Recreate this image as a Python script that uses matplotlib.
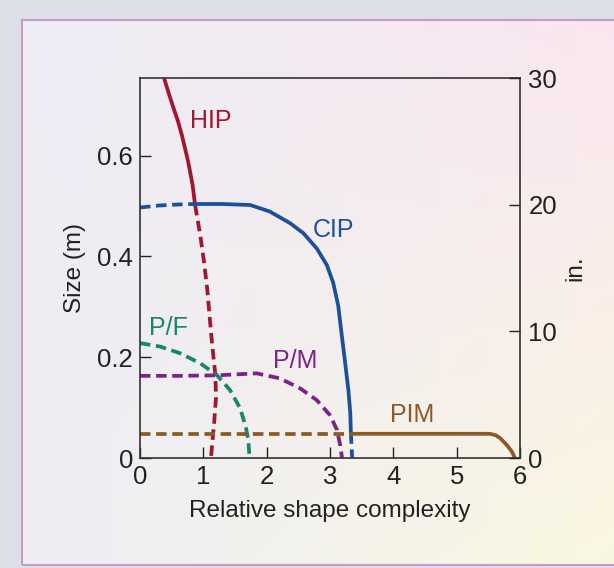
import numpy as np
import matplotlib.pyplot as plt
from matplotlib.patches import Rectangle

plt.rcParams['font.family'] = ['Liberation Sans', 'DejaVu Sans']

# curves: x = relative shape complexity, y = size (m)
hip_solid_x = [0.38, 0.45, 0.53, 0.60, 0.66, 0.71, 0.76, 0.83, 0.87]
hip_solid_y = [0.754, 0.725, 0.694, 0.668, 0.641, 0.615, 0.588, 0.542, 0.502]
hip_dash_x = [0.87, 0.95, 1.01, 1.06, 1.12, 1.16, 1.19, 1.20, 1.17, 1.12]
hip_dash_y = [0.502, 0.443, 0.39, 0.337, 0.251, 0.20, 0.165, 0.12, 0.069, 0.0]

cip_dash_x = [0.0, 0.3, 0.6, 0.87]
cip_dash_y = [0.497, 0.501, 0.503, 0.504]
cip_solid_x = [0.87, 1.3, 1.74, 2.05, 2.37, 2.58, 2.79, 2.95, 3.05, 3.13, 3.17, 3.24, 3.29, 3.32, 3.33]
cip_solid_y = [0.504, 0.504, 0.502, 0.489, 0.466, 0.446, 0.416, 0.383, 0.348, 0.302, 0.260, 0.188, 0.135, 0.09, 0.049]
cip_tail_x = [3.33, 3.35]
cip_tail_y = [0.049, 0.0]

pf_x = [0.0, 0.32, 0.63, 0.95, 1.21, 1.42, 1.58, 1.67, 1.71, 1.73]
pf_y = [0.228, 0.221, 0.208, 0.188, 0.165, 0.135, 0.099, 0.062, 0.036, 0.0]

pm_x = [0.0, 0.6, 1.21, 1.84, 2.21, 2.53, 2.79, 3.0, 3.11, 3.16, 3.19]
pm_y = [0.163, 0.163, 0.164, 0.168, 0.158, 0.138, 0.115, 0.085, 0.056, 0.026, 0.0]

pim_dash_x = [0.0, 3.33]
pim_dash_y = [0.048, 0.048]
pim_solid_x = [3.33, 5.53, 5.62, 5.69, 5.79, 5.87, 5.92]
pim_solid_y = [0.048, 0.048, 0.045, 0.039, 0.026, 0.013, 0.0]

labels = ['HIP', 'CIP', 'P/F', 'P/M', 'PIM']
label_x = [1.11, 3.06, 0.45, 2.45, 4.3]
label_y = [0.669, 0.453, 0.258, 0.193, 0.085]

red = '#a3162f'
blue = '#1c4f9c'
green = '#17866a'
purple = '#7e2188'
brown = '#8a5a2a'
colors = [red, blue, green, purple, brown]

fig = plt.figure(figsize=(6.14, 5.68), dpi=100)

# background: soft gradient panel with a thin frame
bg = fig.add_axes([0, 0, 1, 1])
gx, gy = np.meshgrid(np.linspace(0, 1, 200), np.linspace(0, 1, 200))
img = np.ones((200, 200, 3))
img[..., 0] = 0.93 + 0.05 * gx
img[..., 1] = 0.93 - 0.03 * gx * (1 - gy) + 0.04 * gx * gy
img[..., 2] = 0.96 - 0.02 * gx - 0.06 * gx * gy
img = np.clip(img, 0, 1)
bg.add_patch(Rectangle((0, 0), 1, 1, color='#dcdfe8', zorder=0))
bg.set_xlim(0, 1)
bg.set_ylim(0, 1)
bg.imshow(img, extent=[22 / 614, 1.01, 3 / 568, 1 - 20 / 568], aspect='auto', zorder=1)
bg.add_patch(Rectangle((22 / 614, 3 / 568), 1.0, 1 - 23 / 568, fill=False,
                       edgecolor='#c89ac8', linewidth=1.5, zorder=2))
bg.axis('off')

ax = fig.add_axes([140 / 614, 110 / 568, 380 / 614, 380 / 568])
ax.set_facecolor('none')

lw = 2.7
dash = (2.8, 1.5)
kw = dict(lw=lw, solid_joinstyle='round', solid_capstyle='butt', dash_capstyle='butt')
ax.plot(hip_solid_x, hip_solid_y, color=red, **kw)
ax.plot(hip_dash_x, hip_dash_y, color=red, dashes=dash, **kw)
ax.plot(cip_dash_x, cip_dash_y, color=blue, dashes=dash, **kw)
ax.plot(cip_solid_x, cip_solid_y, color=blue, **kw)
ax.plot(cip_tail_x, cip_tail_y, color=blue, dashes=dash, **kw)
ax.plot(pf_x, pf_y, color=green, dashes=dash, **kw)
ax.plot(pm_x, pm_y, color=purple, dashes=dash, **kw)
ax.plot(pim_dash_x, pim_dash_y, color=brown, dashes=dash, **kw)
ax.plot(pim_solid_x, pim_solid_y, color=brown, **kw)

for t, x, y, c in zip(labels, label_x, label_y, colors):
    ax.text(x, y, t, color=c, fontsize=18, ha='center', va='center')

ax.set_xlim(0, 6)
ax.set_ylim(0, 0.754)
ax.set_xticks([0, 1, 2, 3, 4, 5, 6])
ax.set_yticks([0, 0.2, 0.4, 0.6])
ax.set_yticklabels(['0', '0.2', '0.4', '0.6'])
ax.tick_params(direction='in', length=8, width=1, labelsize=18.5, colors='#222222', pad=5)
for s in ax.spines.values():
    s.set_color('#333333')
    s.set_linewidth(1.2)
ax.set_xlabel('Relative shape complexity', fontsize=17.5, color='#222222', labelpad=8)
ax.set_ylabel('Size (m)', fontsize=17.5, color='#222222', labelpad=8)

ax2 = ax.twinx()
ax2.set_ylim(0, 30)
ax2.set_yticks([0, 10, 20, 30])
ax2.tick_params(direction='in', length=8, width=1, labelsize=18.5, colors='#222222', pad=6)
ax2.set_ylabel('in.', fontsize=17.5, color='#222222', labelpad=5)
for s in ax2.spines.values():
    s.set_visible(False)

fig.savefig('out.png', dpi=100)
